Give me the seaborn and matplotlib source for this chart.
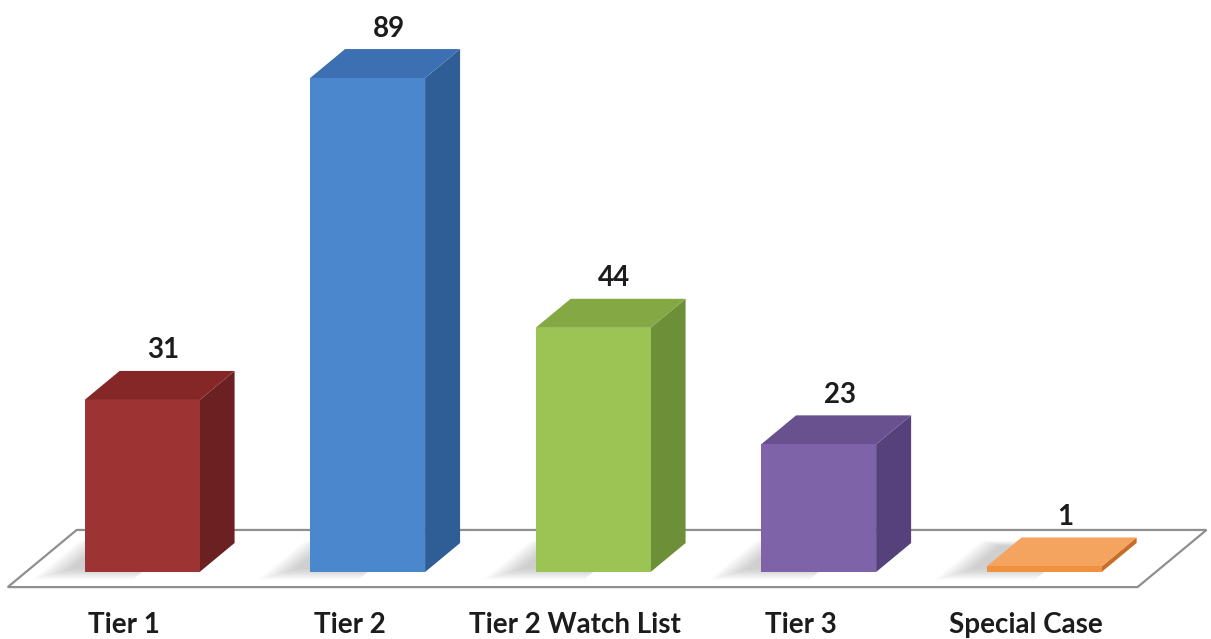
import matplotlib
matplotlib.use("Agg")
import matplotlib.pyplot as plt
import seaborn as sns
import pandas as pd

# data
categories = ["Tier 1", "Tier 2", "Tier 2 Watch List", "Tier 3", "Special Case"]
counts = [31, 89, 44, 23, 1]

# face colours: front / right side / top
front_colors = ["#9E3333", "#4A87CC", "#9CC455", "#7F63A9", "#F0913F"]
side_colors = ["#6B2121", "#2F5D95", "#6C8F38", "#56417A", "#C86E28"]
top_colors = ["#852727", "#3C70B2", "#84A944", "#69508F", "#F5A460"]

sns.set_theme(style="white")
plt.rcParams["font.family"] = ["Lato", "DejaVu Sans"]

fig = plt.figure(figsize=(12.11, 6.39), dpi=100)
ax = fig.add_axes([0, 0, 1, 622 / 639])

df = pd.DataFrame({"tier": categories, "count": counts})
sns.barplot(data=df, x="tier", y="count", hue="tier", palette=front_colors,
            saturation=1, width=0.51, linewidth=0, legend=False, ax=ax, zorder=4)

ax.set_xlim(-0.63, 4.74)
ax.set_ylim(-12.07, 100)
ax.axis("off")

# pixel sizes of one data unit, used for the oblique depth
px_x = 1211 / (4.74 + 0.63)
px_y = 622 / (100 + 12.07)
dx = 35 / px_x
dy = 29 / px_y

bars = list(ax.patches)


def at_depth(x, y, t):
    return (x + t * dx, y + t * dy)


# floor
t_front, t_back = -0.52, 1.45
fl = bars[0].get_x() - 0.26
fr = bars[-1].get_x() + bars[-1].get_width() + 0.24
floor = [at_depth(fl, 0, t_front), at_depth(fr, 0, t_front),
         at_depth(fr, 0, t_back), at_depth(fl, 0, t_back)]
ax.add_patch(plt.Polygon(floor, closed=True, facecolor="white",
                         edgecolor="#8f8f8f", linewidth=1.6, zorder=1))

for i, p in enumerate(bars):
    x0, w, h = p.get_x(), p.get_width(), p.get_height()

    # soft shadow at the foot of the bar: stacked faint footprints
    for k in range(10):
        grow = 0.012 * k
        sh = [at_depth(x0 - 0.08 - grow, 0, 0.1 - k * 0.04),
              at_depth(x0 + w * 0.5, 0, 0.1 - k * 0.04),
              at_depth(x0 + w * 0.5, 0, 0.9 + k * 0.02),
              at_depth(x0 - 0.08 - grow, 0, 0.9 + k * 0.02)]
        ax.add_patch(plt.Polygon(sh, closed=True, facecolor="#303030",
                                 edgecolor="none", alpha=0.025, zorder=2))

    side = [(x0 + w, 0), at_depth(x0 + w, 0, 1), at_depth(x0 + w, h, 1), (x0 + w, h)]
    top = [(x0, h), (x0 + w, h), at_depth(x0 + w, h, 1), at_depth(x0, h, 1)]
    ax.add_patch(plt.Polygon(side, closed=True, facecolor=side_colors[i],
                             edgecolor="none", zorder=3))
    ax.add_patch(plt.Polygon(top, closed=True, facecolor=top_colors[i],
                             edgecolor="none", zorder=3))

    # value label above the top face
    cx = x0 + w / 2 + dx * 0.6
    ax.annotate(str(counts[i]), (cx, h + dy), xytext=(0, 9),
                textcoords="offset points", ha="center", va="baseline",
                fontsize=20, fontweight="bold", color="#1c1c1c", zorder=6)

    # category label under the front edge of the floor
    lx = at_depth(x0 + w / 2, 0, t_front)[0]
    ax.text(lx, -11.0, categories[i], ha="center", va="baseline",
            fontsize=20, fontweight="bold", color="#1c1c1c")

fig.savefig("out.png", dpi=100)
